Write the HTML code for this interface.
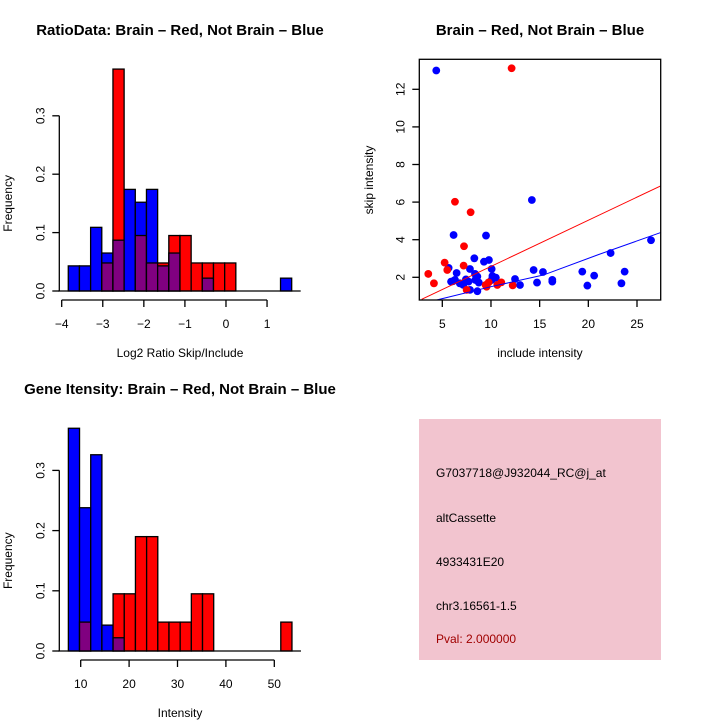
<!DOCTYPE html>
<html><head><meta charset="utf-8"><style>
body{margin:0;background:#fff}
svg{display:block;font-family:"Liberation Sans",Arial,sans-serif}
</style></head><body>
<svg id="s" width="720" height="720" viewBox="0 0 720 720">
<rect width="720" height="720" fill="#fff"/>
<g id="p1"></g>
<g id="p2"></g>
<g id="p3"></g>
<g>
<rect x="419" y="419" width="242" height="241" fill="#f2c4cf"/>
<text x="436" y="477" font-size="12">G7037718@J932044_RC@j_at</text>
<text x="436" y="522" font-size="12">altCassette</text>
<text x="436" y="566" font-size="12">4933431E20</text>
<text x="436" y="610" font-size="12">chr3.16561-1.5</text>
<text x="436" y="643" font-size="12" fill="#a00000">Pval: 2.000000</text>
</g>
</svg>
<script>
const ratioBlue=[0.043,0.043,0.109,0.065,0.087,0.174,0.152,0.174,0.043,0.065,0,0,0.022,0,0,0,0,0,0,0.022];
const ratioRed=[0,0,0,0.048,0.38,0,0.095,0.048,0.048,0.095,0.095,0.048,0.048,0.048,0.048,0,0,0,0,0];
const ratioXTicks=[-4,-3,-2,-1,0,1];
const yTicks=[0,0.1,0.2,0.3];
const intBlue=[0.37,0.238,0.326,0.043,0.022,0,0,0,0,0,0,0,0,0,0,0,0,0,0,0];
const intRed=[0,0.048,0,0,0.095,0.095,0.19,0.19,0.048,0.048,0.048,0.095,0.095,0,0,0,0,0,0,0.048];
const intXTicks=[10,20,30,40,50];
const blueX=[4.38,14.2,6.16,9.49,8.29,9.28,9.79,5.65,6.47,7.84,10.07,6.1,5.9,6.3,6.8,7.43,7.7,8.4,8.6,8.36,8.75,8.6,7.84,7.15,10.15,10.5,10.07,12.47,12.98,14.38,14.73,15.34,16.3,16.3,19.38,19.9,20.6,22.29,23.4,23.73,26.44];
const blueY=[13.0,6.11,4.25,4.22,3.01,2.83,2.92,2.50,2.23,2.44,2.44,1.79,1.77,1.86,1.68,1.89,1.77,1.86,2.04,2.18,1.72,1.26,1.33,1.6,2.07,1.98,1.86,1.91,1.59,2.39,1.72,2.28,1.86,1.77,2.30,1.56,2.09,3.29,1.68,2.30,3.97];
const redX=[12.12,6.3,7.91,7.23,5.24,7.19,3.56,4.14,5.51,7.5,9.55,9.76,10.65,11.06,12.23,9.45];
const redY=[13.12,6.02,5.46,3.65,2.78,2.62,2.18,1.68,2.39,1.33,1.5,1.73,1.59,1.73,1.57,1.59];
const redFitX=[2.88,27.43];
const redFitY=[0.83,6.86];
const blueFitX=[4.42,10,15.38,21,27.43];
const blueFitY=[0.79,1.5,2.12,3.2,4.38];
const scXTicks=[5,10,15,20,25];
const scYTicks=[2,4,6,8,10,12];

const NS='http://www.w3.org/2000/svg';
function mk(parent,tag,attrs,txt){const e=document.createElementNS(NS,tag);for(const k in attrs)e.setAttribute(k,attrs[k]);if(txt!==undefined)e.textContent=txt;parent.appendChild(e);return e;}

function hist(g,cfg){
  const sx=v=>cfg.x0px+(v-cfg.x0)*cfg.xs;
  const sy=v=>cfg.y0px-v*cfg.ys;
  const n=cfg.blue.length;
  for(let i=0;i<n;i++){
    const b=cfg.blue[i],r=cfg.red[i];
    const l=sx(cfg.start+i*cfg.w),rr=sx(cfg.start+(i+1)*cfg.w);
    const mx=Math.max(b,r),mn=Math.min(b,r);
    const bar=mk(g,'rect',{x:l,y:sy(mx),width:rr-l,height:sy(0)-sy(mx),fill:b>=r?'#0000ff':'#ff0000',stroke:'#000','stroke-width':1.3});
    
    
    if(mn>0){
      const ov=mk(g,'rect',{x:l,y:sy(mn),width:rr-l,height:sy(0)-sy(mn),fill:'#800080',stroke:'#000','stroke-width':1.3});
      
      
    }
  }
  mk(g,'line',{x1:sx(cfg.start)-10,x2:sx(cfg.start+n*cfg.w)+9,y1:sy(0),y2:sy(0),stroke:'#000','stroke-width':1.3});
  mk(g,'line',{x1:cfg.yax,x2:cfg.yax,y1:sy(0),y2:sy(0.3),stroke:'#000','stroke-width':1.3});
  yTicks.forEach(t=>{
    mk(g,'line',{x1:cfg.yax-7,x2:cfg.yax,y1:sy(t),y2:sy(t),stroke:'#000','stroke-width':1.3});
    const tl=mk(g,'text',{x:0,y:0,'font-size':12,'text-anchor':'middle',transform:`translate(${cfg.yax-15},${sy(t)}) rotate(-90)`},t.toFixed(1));
    
    
  });
  const xt=cfg.xticks;
  mk(g,'line',{x1:sx(xt[0]),x2:sx(xt[xt.length-1]),y1:cfg.xax,y2:cfg.xax,stroke:'#000','stroke-width':1.3});
  xt.forEach(t=>{
    mk(g,'line',{x1:sx(t),x2:sx(t),y1:cfg.xax,y2:cfg.xax+7,stroke:'#000','stroke-width':1.3});
    const tl=mk(g,'text',{x:sx(t),y:cfg.xax+28,'font-size':12,'text-anchor':'middle'},String(t).replace('-','\u2212'));
    
    
  });
  const yt=mk(g,'text',{x:0,y:0,'font-size':12,'text-anchor':'middle',transform:`translate(12,${sy(0.15)}) rotate(-90)`},'Frequency');
  
  
  const xtt=mk(g,'text',{x:cfg.xlabX,y:cfg.xlabY,'font-size':12,'text-anchor':'middle'},cfg.xlab);
  
  
  const tt=mk(g,'text',{x:cfg.titleX,y:cfg.titleY,'font-size':15,'font-weight':'bold','text-anchor':'middle'},cfg.title);
  
  
}

hist(document.getElementById('p1'),{blue:ratioBlue,red:ratioRed,start:-3.84,w:0.272,x0:-4,x0px:61.7,xs:41.07,y0px:291,ys:584,yax:59.3,xax:300,xticks:ratioXTicks,xlab:'Log2 Ratio Skip/Include',xlabX:180,xlabY:357,title:'RatioData: Brain \u2013 Red, Not Brain \u2013 Blue',titleX:180,titleY:35});
hist(document.getElementById('p3'),{blue:intBlue,red:intRed,start:7.45,w:2.31,x0:10,x0px:80.7,xs:4.84,y0px:651,ys:602,yax:59.3,xax:660,xticks:intXTicks,xlab:'Intensity',xlabX:180,xlabY:717,title:'Gene Itensity: Brain \u2013 Red, Not Brain \u2013 Blue',titleX:180,titleY:394});

(function(){
  const g=document.getElementById('p2');
  const sx=v=>442.3+(v-5)*9.735;
  const sy=v=>277.3-(v-2)*18.8;
  const L=419.3,R=660.7,T=59.3,B=300;
  const clip=mk(g,'clipPath',{id:'cp'});mk(clip,'rect',{x:L,y:T,width:R-L,height:B-T});
  const pts=mk(g,'g',{'clip-path':'url(#cp)'});
  blueX.forEach((x,i)=>{const c=mk(pts,'circle',{cx:sx(x),cy:sy(blueY[i]),r:3.9,fill:'#0000ff'});
    
    });
  redX.forEach((x,i)=>{const c=mk(pts,'circle',{cx:sx(x),cy:sy(redY[i]),r:3.9,fill:'#ff0000'});
    
    });
  const rl=mk(pts,'polyline',{points:redFitX.map((x,i)=>sx(x)+','+sy(redFitY[i])).join(' '),fill:'none',stroke:'#ff0000','stroke-width':1});
  
  
  const bl=mk(pts,'polyline',{points:blueFitX.map((x,i)=>sx(x)+','+sy(blueFitY[i])).join(' '),fill:'none',stroke:'#0000ff','stroke-width':1});
  
  
  mk(g,'rect',{x:L,y:T,width:R-L,height:B-T,fill:'none',stroke:'#000','stroke-width':1.3});
  scXTicks.forEach(t=>{mk(g,'line',{x1:sx(t),x2:sx(t),y1:B,y2:B+7,stroke:'#000','stroke-width':1.3});
    const tl=mk(g,'text',{x:sx(t),y:B+28,'font-size':12,'text-anchor':'middle'},t);
    
    });
  scYTicks.forEach(t=>{mk(g,'line',{x1:L-7,x2:L,y1:sy(t),y2:sy(t),stroke:'#000','stroke-width':1.3});
    const tl=mk(g,'text',{x:0,y:0,'font-size':12,'text-anchor':'middle',transform:`translate(${L-15},${sy(t)}) rotate(-90)`},t);
    
    });
  const xt=mk(g,'text',{x:540,y:357,'font-size':12,'text-anchor':'middle'},'include intensity');
  
  
  const yt=mk(g,'text',{x:0,y:0,'font-size':12,'text-anchor':'middle',transform:'translate(373,180) rotate(-90)'},'skip intensity');
  
  
  const tt=mk(g,'text',{x:540,y:35,'font-size':15,'font-weight':'bold','text-anchor':'middle'},'Brain \u2013 Red, Not Brain \u2013 Blue');
  
  
})();
</script>
</body></html>
